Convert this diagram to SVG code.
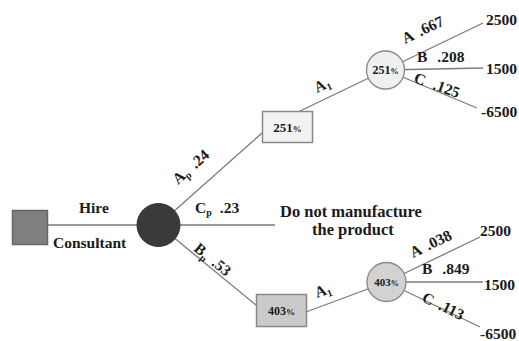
<svg xmlns="http://www.w3.org/2000/svg" width="519" height="341" viewBox="0 0 519 341">
<style>
.ln{stroke:#7a7a7a;stroke-width:1.3;fill:none}
.t{font-family:"Liberation Serif","Times New Roman",serif;font-weight:bold;font-size:15.5px;fill:#1a1a1a}
.b{font-size:16.5px}
.s{font-size:10px}
.n{font-family:"Liberation Serif","Times New Roman",serif;font-weight:bold;fill:#1a1a1a;text-anchor:middle}
</style>
<rect width="519" height="341" fill="#fff"/>
<g id="connectors">
<line class="ln" x1="48" y1="225" x2="140" y2="225"/>
<line class="ln" x1="158.5" y1="225" x2="262" y2="133"/>
<line class="ln" x1="158.5" y1="225" x2="275" y2="225"/>
<line class="ln" x1="158.5" y1="225" x2="256" y2="305"/>
<line class="ln" x1="300" y1="111" x2="385.5" y2="70"/>
<line class="ln" x1="306" y1="312" x2="386.5" y2="282"/>
<line class="ln" x1="385.5" y1="70" x2="483" y2="23"/>
<line class="ln" x1="385.5" y1="70" x2="483" y2="68"/>
<line class="ln" x1="385.5" y1="70" x2="477" y2="108"/>
<line class="ln" x1="386.5" y1="282" x2="480" y2="237"/>
<line class="ln" x1="386.5" y1="282" x2="483" y2="282"/>
<line class="ln" x1="386.5" y1="282" x2="480" y2="327"/>
</g>
<g id="labels">
<text class="t" x="79" y="213">Hire</text>
<text class="t" x="53" y="248">Consultant</text>
<text class="t" transform="translate(178,185) rotate(-41.6)">A<tspan class="s" dy="3">p</tspan><tspan dy="-3" dx="7">.24</tspan></text>
<text class="t" x="195" y="213">C<tspan class="s" dy="3">p</tspan><tspan dy="-3" dx="8">.23</tspan></text>
<text class="t" transform="translate(193,250) rotate(39.4)">B<tspan class="s" dy="3">p</tspan><tspan dy="-3" dx="7">.53</tspan></text>
<text class="t b" x="280" y="217">Do not manufacture</text>
<text class="t b" x="312" y="235">the product</text>
<text class="t" transform="translate(317,93) rotate(-25.6)">A<tspan class="s" dy="3">1</tspan></text>
<text class="t" transform="translate(317,298) rotate(-20.4)">A<tspan class="s" dy="3">1</tspan></text>
<text class="t" transform="translate(405,44) rotate(-25.7)">A<tspan dx="6">.667</tspan></text>
<text class="t" x="417" y="62">B<tspan dx="10">.208</tspan></text>
<text class="t" transform="translate(413,82) rotate(20)">C<tspan dx="9">.125</tspan></text>
<text class="t" transform="translate(413,258) rotate(-25.7)">A<tspan dx="6">.038</tspan></text>
<text class="t" x="422" y="274">B<tspan dx="10">.849</tspan></text>
<text class="t" transform="translate(421,301) rotate(25.7)">C<tspan dx="7">.113</tspan></text>
<text class="t" x="486" y="25">2500</text>
<text class="t" x="486" y="74">1500</text>
<text class="t" x="481" y="117">-6500</text>
<text class="t" x="480" y="236">2500</text>
<text class="t" x="484" y="290">1500</text>
<text class="t" x="480" y="339">-6500</text>
</g>
<g id="decision">
<rect x="12.5" y="210.5" width="35" height="34" fill="#7f7f7f" stroke="#666" stroke-width="1.5"/>
</g>
<g id="chance-main">
<circle cx="158.5" cy="225" r="21.5" fill="#3a3a3a" stroke="#333" stroke-width="1"/>
</g>
<g id="box-upper">
<rect x="262.5" y="111.5" width="50" height="31" fill="#f2f2f2" stroke="#888" stroke-width="1.5"/>
<text class="n" x="287.5" y="132" font-size="13">251<tspan font-size="9">%</tspan></text>
</g>
<g id="circle-upper">
<circle cx="385.5" cy="70" r="19" fill="#efefef" stroke="#888" stroke-width="1.3"/>
<text class="n" x="385.5" y="74" font-size="12">251<tspan font-size="8">%</tspan></text>
</g>
<g id="box-lower">
<rect x="256.5" y="294.5" width="50" height="32" fill="#cacaca" stroke="#888" stroke-width="1.5"/>
<text class="n" x="281.5" y="315" font-size="12">403<tspan font-size="9">%</tspan></text>
</g>
<g id="circle-lower">
<circle cx="386.5" cy="282" r="19.5" fill="#d2d2d2" stroke="#888" stroke-width="1.3"/>
<text class="n" x="386.5" y="286" font-size="11">403<tspan font-size="8">%</tspan></text>
</g>
</svg>
